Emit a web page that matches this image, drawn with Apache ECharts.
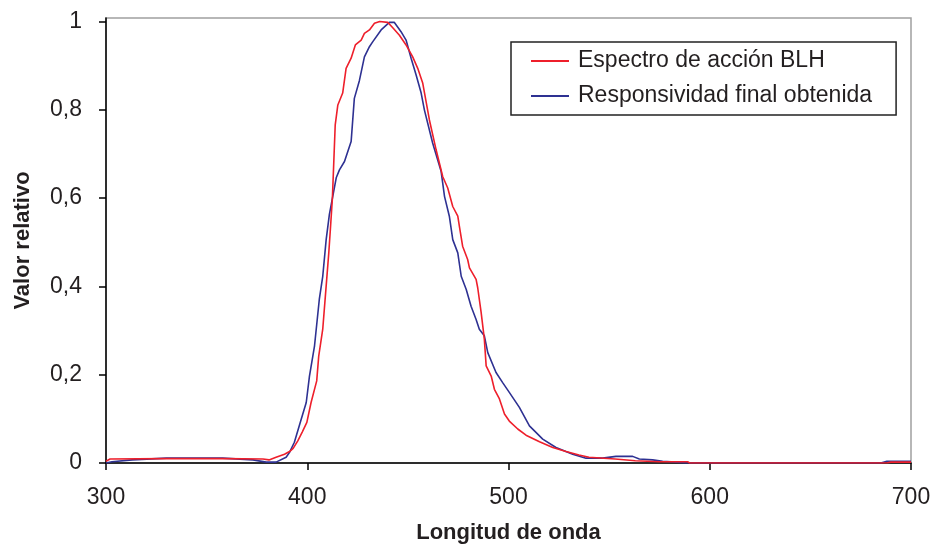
<!DOCTYPE html>
<html>
<head>
<meta charset="utf-8">
<script src="https://cdn.jsdelivr.net/npm/echarts@6/dist/echarts.min.js"></script>
<style>html,body{margin:0;padding:0;background:#fff}#c{width:937px;height:549px}</style>
</head>
<body>
<div id="c"></div>
<script>
// Wavelengths (nm) and relative values
const blhWave = [300,302,330,358,378,381,384.5,388.7,391.2,393,395.3,397.5,399.8,401.9,404.7,405.7,407.7,409,410.7,411.5,412.5,413.9,415.2,417.6,419.3,421.8,423.9,426.8,428.4,430.9,433.4,436,440,442.5,445.8,449.1,452.4,454.9,457.4,460.7,464,467.3,469.8,472.3,474.8,475.6,477.2,479.7,480.6,483.9,484.7,486.4,487.5,488,488.9,491.4,493,495.5,498,500.4,504.6,508.7,515.4,522,528.6,535,540,553,563,575,589,590,688,690,700];
const blhValue = [0.004,0.009,0.010,0.010,0.009,0.007,0.013,0.020,0.026,0.033,0.050,0.070,0.092,0.137,0.186,0.242,0.303,0.378,0.476,0.530,0.600,0.766,0.811,0.838,0.894,0.917,0.947,0.958,0.973,0.981,0.996,1.000,0.998,0.986,0.969,0.947,0.920,0.894,0.860,0.777,0.710,0.649,0.623,0.581,0.559,0.536,0.491,0.461,0.442,0.416,0.397,0.341,0.300,0.280,0.220,0.197,0.167,0.145,0.111,0.095,0.077,0.063,0.048,0.035,0.026,0.018,0.013,0.009,0.005,0.003,0.003,0.000,0.000,0.002,0.002];

const respWave = [300,303,313,330,358,373,379.6,384.5,389.5,391.2,393.6,397,399.5,401.1,403.6,406,407.7,409.4,411,414.4,416,418.5,421.8,423.4,425.9,428.4,430.9,432.5,436.7,440.8,443.3,446.6,449.1,451.6,454.1,456.6,458.2,462.3,466.5,468.2,470.6,472.3,474.8,476.5,479,481.4,483.9,485.5,488,489.7,493.8,497.1,500.4,505.4,510.4,517,523.6,531.9,538.5,546.8,553.4,561.7,565,571.6,576.6,584.9,588,685,688,700];
const respValue = [0.000,0.003,0.007,0.011,0.011,0.007,0.002,0.002,0.013,0.024,0.047,0.099,0.137,0.197,0.265,0.371,0.423,0.506,0.563,0.646,0.664,0.683,0.728,0.826,0.866,0.920,0.943,0.954,0.981,0.998,0.998,0.977,0.958,0.917,0.879,0.838,0.800,0.725,0.661,0.604,0.559,0.506,0.476,0.423,0.393,0.355,0.325,0.303,0.288,0.250,0.205,0.182,0.160,0.126,0.084,0.054,0.035,0.020,0.011,0.011,0.015,0.015,0.009,0.007,0.004,0.0015,0.000,0.000,0.004,0.004];

const seriesNames = ['Espectro de acción BLH', 'Responsividad final obtenida'];
const yTicks = [0, 0.2, 0.4, 0.6, 0.8, 1];
const xTicks = [300, 400, 500, 600, 700];

const pair = (xs, ys) => xs.map((x, i) => [x, ys[i]]);
const fmtY = v => String(+v.toFixed(1)).replace('.', ',');

const chart = echarts.init(document.getElementById('c'), null, {renderer: 'canvas'});
chart.setOption({
  backgroundColor: '#fff',
  animation: false,
  grid: {left: 106, right: 26, top: 18, bottom: 85, show: true, borderColor: '#a0a0a0', borderWidth: 1.5, backgroundColor: 'transparent'},
  xAxis: {
    type: 'value', min: 300, max: 700, interval: 100,
    name: 'Longitud de onda', nameLocation: 'middle', nameGap: 59,
    nameTextStyle: {fontFamily: 'Liberation Sans', fontWeight: 'bold', fontSize: 22, color: '#231f20'},
    axisLine: {show: true, onZero: false, lineStyle: {color: '#000', width: 1.5}},
    axisTick: {show: true, inside: false, length: 7, lineStyle: {color: '#000', width: 1.5}, customValues: xTicks},
    axisLabel: {margin: 23, fontFamily: 'Liberation Sans', fontSize: 23, color: '#231f20', customValues: xTicks},
    splitLine: {show: false}
  },
  yAxis: {
    type: 'value', min: 0, max: 1.008,
    name: 'Valor relativo', nameLocation: 'middle', nameGap: 72, nameRotate: 90,
    nameTextStyle: {fontFamily: 'Liberation Sans', fontWeight: 'bold', fontSize: 22, color: '#231f20'},
    axisLine: {show: true, lineStyle: {color: '#000', width: 1.5}},
    axisTick: {show: true, inside: false, length: 7, lineStyle: {color: '#000', width: 1.5}, customValues: yTicks},
    axisLabel: {margin: 24, fontFamily: 'Liberation Sans', fontSize: 23, color: '#231f20', customValues: yTicks, formatter: fmtY},
    splitLine: {show: false}
  },
  legend: {
    orient: 'vertical', left: 511, top: 42,
    backgroundColor: '#fff', borderColor: '#222', borderWidth: 1.5,
    padding: [7, 24, 7, 20], itemGap: 11, itemWidth: 38, itemHeight: 2,
    icon: 'rect',
    textStyle: {fontFamily: 'Liberation Sans', fontSize: 23, color: '#231f20', lineHeight: 24, padding: [0, 0, 0, 4]},
    data: seriesNames
  },
  series: [
    {name: seriesNames[0], type: 'line', data: pair(blhWave, blhValue), showSymbol: false, symbol: 'none',
     lineStyle: {color: '#ee1f2b', width: 1.6}, itemStyle: {color: '#ee1f2b'}, z: 3},
    {name: seriesNames[1], type: 'line', data: pair(respWave, respValue), showSymbol: false, symbol: 'none',
     lineStyle: {color: '#2e3192', width: 1.6}, itemStyle: {color: '#2e3192'}, z: 2}
  ]
});
</script>
</body>
</html>
